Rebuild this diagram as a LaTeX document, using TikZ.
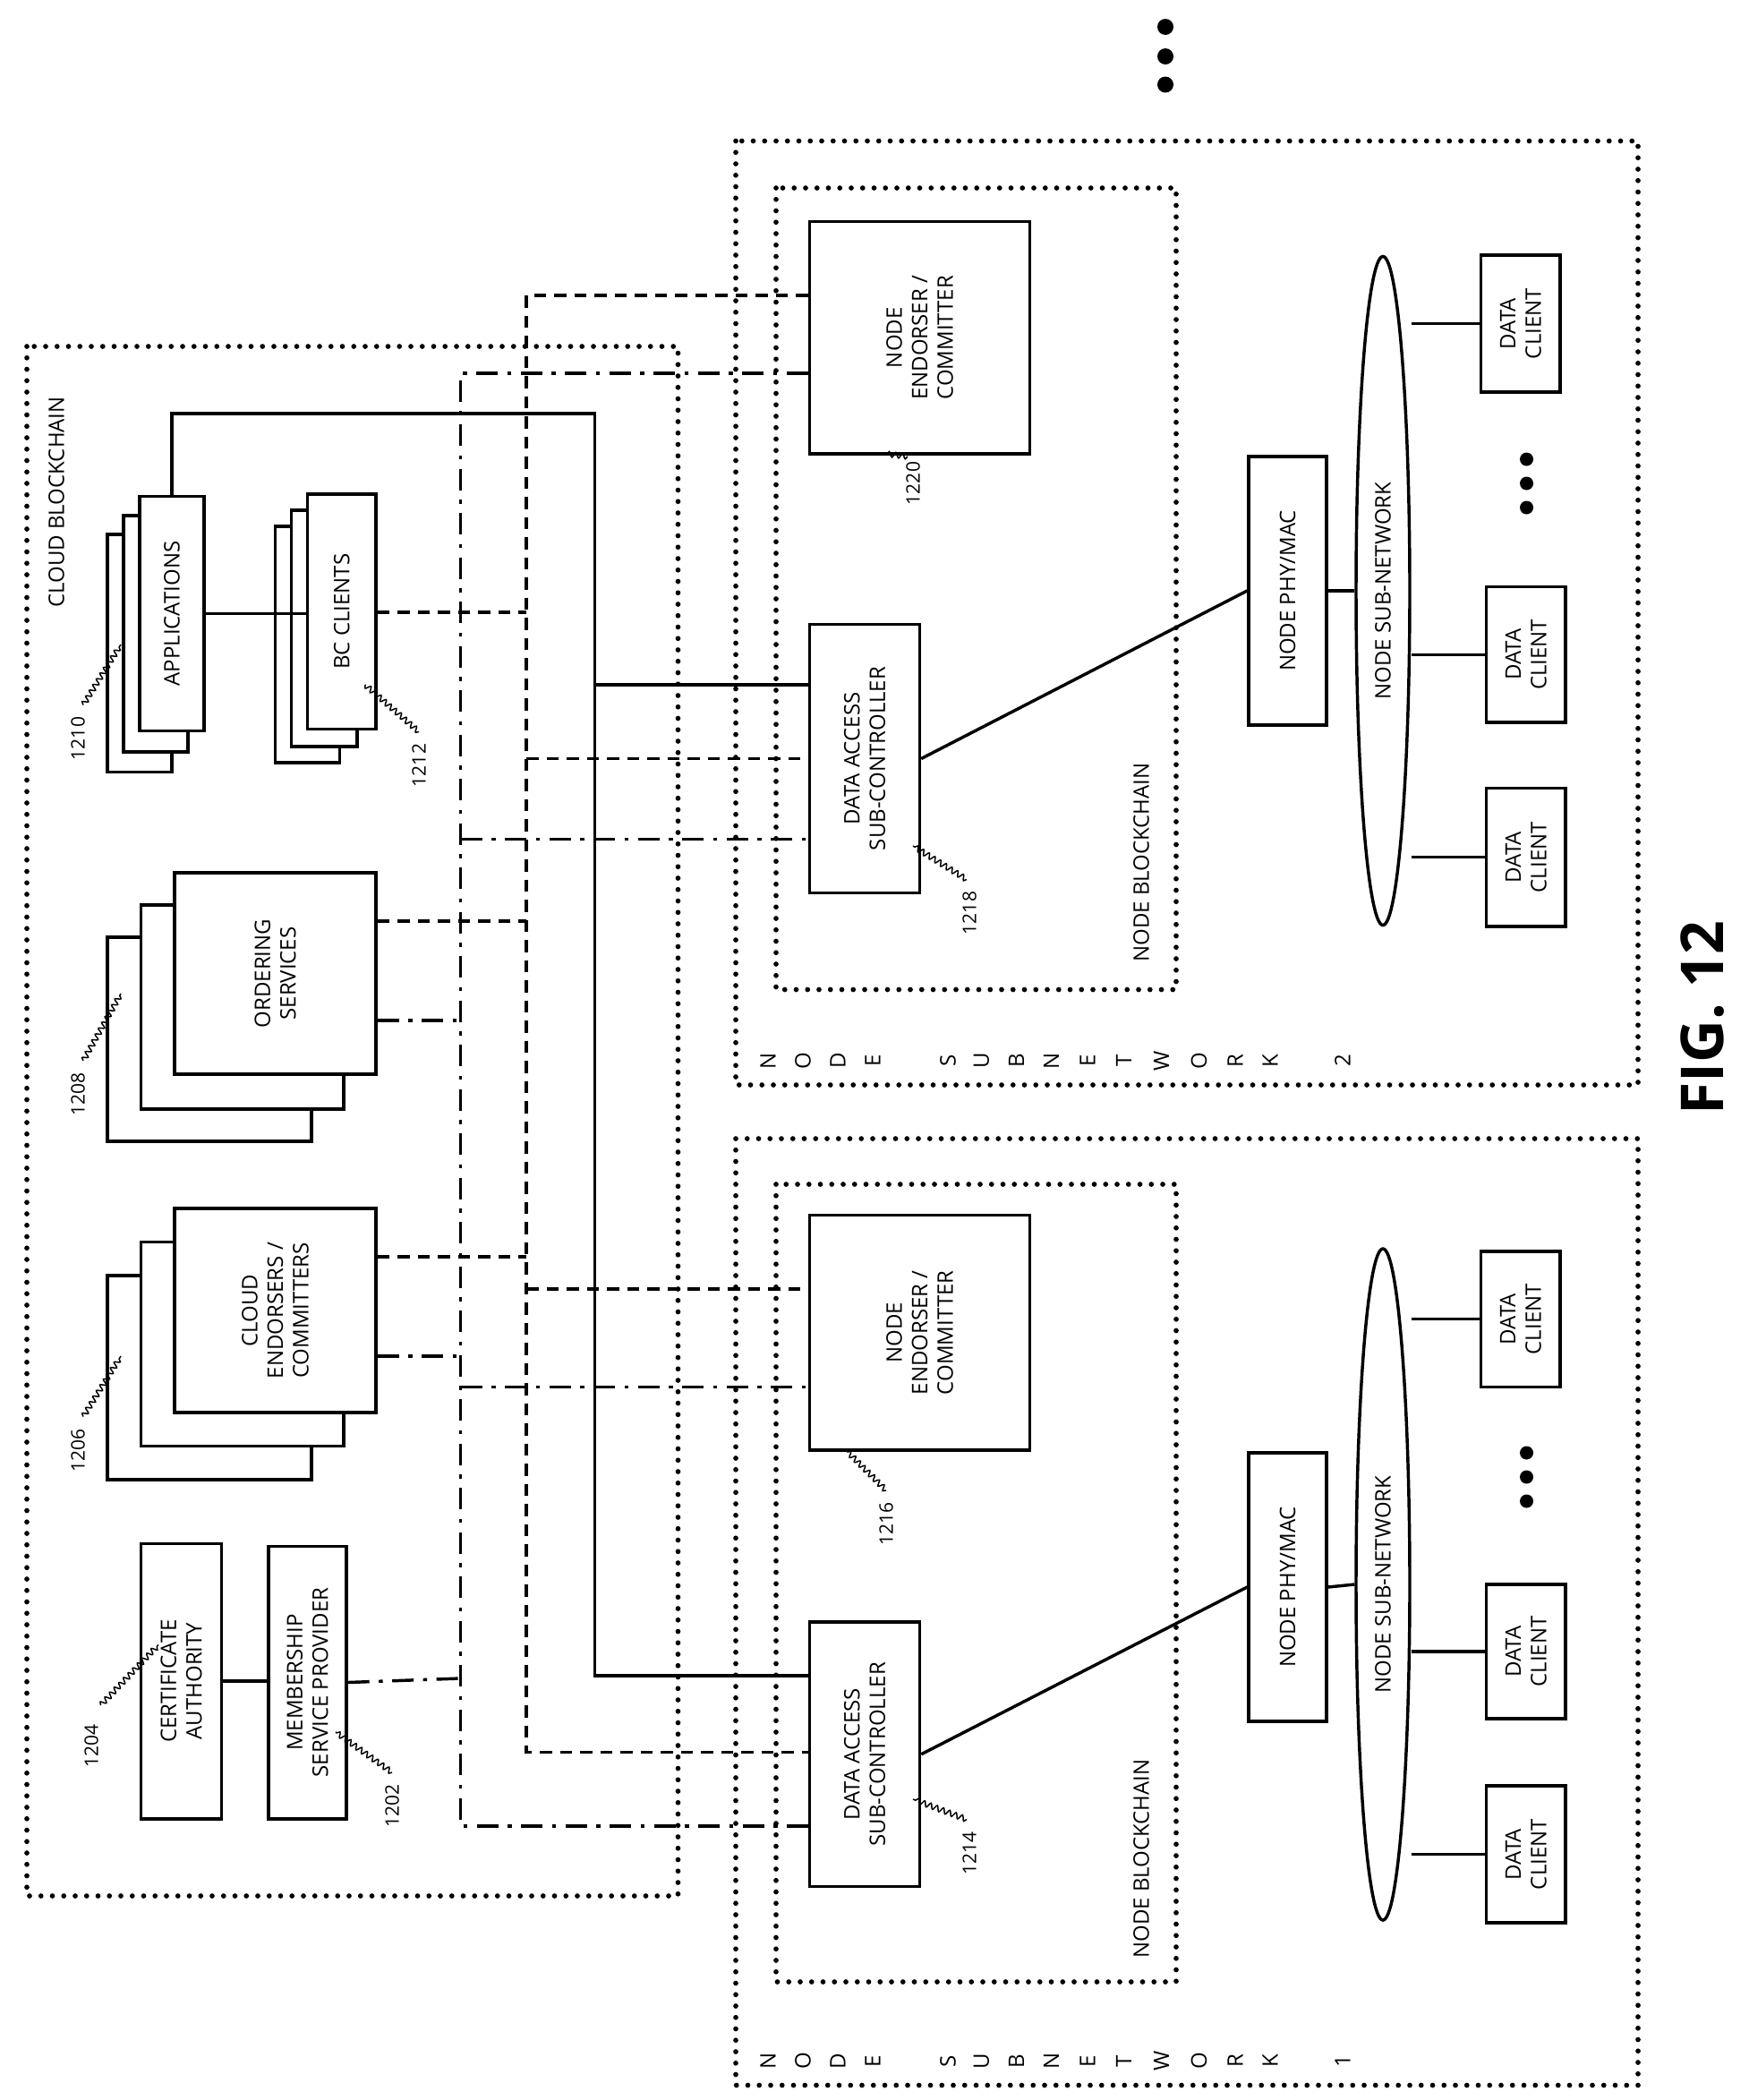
\documentclass[tikz,border=0pt]{standalone}
\usepackage{fontspec}
\setmainfont{Open Sans}
\usetikzlibrary{shapes.geometric,decorations.pathmorphing}
\begin{document}
\begin{tikzpicture}[x=1pt,y=-1pt,
 every node/.style={font=\fontsize{16}{19}\selectfont},
 box/.style={draw,line width=2.3pt,fill=white,rotate=90,align=center,inner sep=0pt},
 bk/.style={draw,line width=2.3pt,fill=white},
 ln/.style={line width=2.3pt},
 dsh/.style={line width=2.3pt,dash pattern=on 9pt off 6pt},
 dd/.style={line width=2.3pt,dash pattern=on 16pt off 7pt on 3pt off 7pt},
 dot/.style={line width=3.8pt,line cap=round,dash pattern=on 0pt off 8.5pt},
 lab/.style={rotate=90,font=\fontsize{14}{16}\selectfont},
 sq/.style={line width=1pt,decorate,decoration={snake,amplitude=2pt,segment length=5pt}}]
\useasboundingbox (0,0) rectangle (1302,1564);
% dotted frames
\draw[dot] (20,258) rectangle (505,1412);
\draw[dot] (548,105) rectangle (1220,808);
\draw[dot] (548,848) rectangle (1220,1553);
\draw[dot] (578,140) rectangle (876,737);
\draw[dot] (578,882) rectangle (876,1476);
\node[rotate=90,anchor=west] (cbl) at (42,456) {CLOUD BLOCKCHAIN};
\node[rotate=90,anchor=west] (nbl2) at (850,720) {NODE BLOCKCHAIN};
\node[rotate=90,anchor=west] (nbl1) at (850,1462) {NODE BLOCKCHAIN};
\foreach \c/\x in {N/572,O/598,D/624,E/650,S/706,U/731,B/757,N/783,E/810,T/837,W/865,O/893,R/920,K/946}{
 \node[rotate=90] at (\x,790) {\c};
 \node[rotate=90] at (\x,1535) {\c};}
\node[rotate=90] (n2) at (1000,790) {2};
\node[rotate=90] (n1) at (1000,1535) {1};
\foreach \y in {20,42,63} \fill (868,\y) circle (6pt);
% cloud boxes
\node[box,minimum width=205pt,minimum height=60pt] (ca) at (135,1252) {CERTIFICATE\\AUTHORITY};
\node[box,minimum width=203pt,minimum height=58pt] (msp) at (229,1253) {MEMBERSHIP\\SERVICE PROVIDER};
\draw[bk] (80,950) rectangle (232,1102);
\draw[bk] (105,925) rectangle (256,1077);
\node[box,minimum width=152pt,minimum height=150pt] (ce) at (205,976) {CLOUD\\ENDORSERS /\\COMMITTERS};
\draw[bk] (80,698) rectangle (232,850);
\draw[bk] (105,674) rectangle (256,826);
\node[box,minimum width=150pt,minimum height=150pt] (os) at (205,725) {ORDERING\\SERVICES};
\draw[bk] (80,398) rectangle (128,575);
\draw[bk] (92,384) rectangle (140,560);
\node[box,minimum width=175pt,minimum height=48pt] (app) at (128,457) {APPLICATIONS};
\draw[bk] (205,392) rectangle (253,568);
\draw[bk] (217,380) rectangle (266,556);
\node[box,minimum width=175pt,minimum height=51pt] (bc) at (254.5,455.5) {BC CLIENTS};
% node subnet 2
\node[box,minimum width=173pt,minimum height=164pt] (ne2) at (685,251.5) {NODE\\ENDORSER /\\COMMITTER};
\node[box,minimum width=200pt,minimum height=82pt] (da2) at (644,565) {DATA ACCESS\\SUB-CONTROLLER};
\node[box,minimum width=200pt,minimum height=58pt] (pm2) at (959,440) {NODE PHY/MAC};
\node[ellipse,draw,line width=2.3pt,rotate=90,minimum width=498pt,minimum height=40pt,inner sep=0pt] (el2) at (1030,440) {NODE SUB-NETWORK};
\node[box,minimum width=102pt,minimum height=59pt] (dc2a) at (1132.5,241) {DATA\\CLIENT};
\node[box,minimum width=101pt,minimum height=59pt] (dc2b) at (1136.5,487.5) {DATA\\CLIENT};
\node[box,minimum width=103pt,minimum height=59pt] (dc2c) at (1136.5,638.5) {DATA\\CLIENT};
\foreach \y in {342,360,378} \fill (1137,\y) circle (5pt);
% node subnet 1
\node[box,minimum width=175pt,minimum height=164pt] (ne1) at (685,992.5) {NODE\\ENDORSER /\\COMMITTER};
\node[box,minimum width=197pt,minimum height=82pt] (da1) at (644,1306.5) {DATA ACCESS\\SUB-CONTROLLER};
\node[box,minimum width=200pt,minimum height=58pt] (pm1) at (959,1182) {NODE PHY/MAC};
\node[ellipse,draw,line width=2.3pt,rotate=90,minimum width=500pt,minimum height=40pt,inner sep=0pt] (el1) at (1030,1180) {NODE SUB-NETWORK};
\node[box,minimum width=101pt,minimum height=59pt] (dc1a) at (1132.5,982.5) {DATA\\CLIENT};
\node[box,minimum width=100pt,minimum height=59pt] (dc1b) at (1136.5,1230) {DATA\\CLIENT};
\node[box,minimum width=102pt,minimum height=59pt] (dc1c) at (1136.5,1381) {DATA\\CLIENT};
\foreach \y in {1082,1100,1118} \fill (1137,\y) circle (5pt);
% subnet connectors
\draw[ln] (da2.south) -- (pm2.north);
\draw[ln] (da1.south) -- (pm1.north);
\draw[ln] (pm2.south) -- (el2.north);
\draw[ln] (pm1.south) -- (el1.north);
\foreach \d in {dc2a,dc2b,dc2c}{\draw[ln] (\d.north -| el2.south) -- (\d.north);}
\foreach \d in {dc1a,dc1b,dc1c}{\draw[ln] (\d.north -| el1.south) -- (\d.north);}
% solid backbone
\coordinate (s1) at (128,308); \coordinate (s2) at (443,308);
\coordinate (s3) at (443,510); \coordinate (s4) at (443,1248);
\draw[ln] (app.east) -- (s1) -- (s2) -- (s4) -- (s4 -| da1.north);
\draw[ln] (s3) -- (s3 -| da2.north);
\draw[ln] (app.south) -- (app.south -| bc.north);
\draw[ln] (ca.south) -- (ca.south -| msp.north);
% dashed
\coordinate (d1) at (392,220); \coordinate (d2) at (392,456); \coordinate (d3) at (392,565);
\coordinate (d4) at (392,686); \coordinate (d5) at (392,936); \coordinate (d6) at (392,960);
\coordinate (d7) at (392,1305);
\draw[dsh] (d1 -| ne2.north) -- (d1) -- (d7) -- (d7 -| da1.north);
\draw[dsh] (d2 -| bc.south) -- (d2);
\draw[dsh] (d3) -- (d3 -| da2.north);
\draw[dsh] (d4 -| os.south) -- (d4);
\draw[dsh] (d5 -| ce.south) -- (d5);
\draw[dsh] (d6) -- (d6 -| ne1.north);
% dash-dot
\coordinate (e1) at (343,278); \coordinate (e2) at (343,625); \coordinate (e3) at (343,760);
\coordinate (e4) at (343,1010); \coordinate (e5) at (343,1033); \coordinate (e6) at (343,1250);
\coordinate (e7) at (343,1360);
\draw[dd] (e1 -| ne2.north) -- (e1) -- (e7) -- (e7 -| da1.north);
\draw[dd] (e2) -- (e2 -| da2.north);
\draw[dd] (e3 -| os.south) -- (e3);
\draw[dd] (e4 -| ce.south) -- (e4);
\draw[dd] (e5) -- (e5 -| ne1.north);
\draw[dd] (msp.south) -- (e6);
% reference labels
\node[lab] (l1204) at (68,1300) {1204}; \draw[sq] (75,1270) -- (118,1225);
\node[lab] (l1202) at (292,1345) {1202}; \draw[sq] (292,1320) -- (250,1290);
\node[lab] (l1206) at (58,1080) {1206}; \draw[sq] (62,1055) -- (90,1010);
\node[lab] (l1208) at (58,815) {1208}; \draw[sq] (62,790) -- (90,740);
\node[lab] (l1210) at (58,550) {1210}; \draw[sq] (62,525) -- (90,480);
\node[lab] (l1212) at (312,570) {1212}; \draw[sq] (312,545) -- (272,510);
\node[lab] (l1220) at (680,360) {1220}; \draw[sq] (676,340) -- (660,338);
\node[lab] (l1218) at (722,680) {1218}; \draw[sq] (720,655) -- (680,630);
\node[lab] (l1216) at (660,1135) {1216}; \draw[sq] (660,1110) -- (630,1080);
\node[lab] (l1214) at (722,1380) {1214}; \draw[sq] (720,1355) -- (680,1340);
\node[rotate=90,font=\bfseries\fontsize{44}{50}\selectfont] (fig) at (1268,758) {FIG. 12};
\end{tikzpicture}
\end{document}
